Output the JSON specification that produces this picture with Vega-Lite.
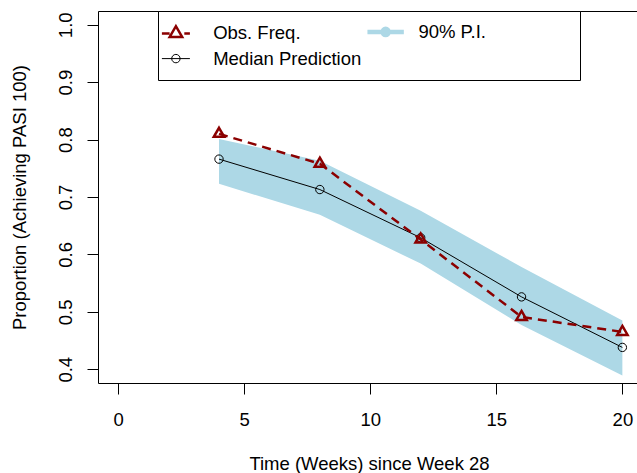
{
  "$schema": "https://vega.github.io/schema/vega-lite/v6.json",
  "width": 540,
  "height": 372,
  "autosize": {"type": "none"},
  "padding": {"left": 98, "top": 11, "right": 0, "bottom": 90},
  "background": "white",
  "datasets": {
    "band": [
      {"week": 4, "lo": 0.723, "hi": 0.801},
      {"week": 8, "lo": 0.669, "hi": 0.763},
      {"week": 12, "lo": 0.584, "hi": 0.676},
      {"week": 16, "lo": 0.477, "hi": 0.578},
      {"week": 20, "lo": 0.389, "hi": 0.485}
    ],
    "obs": [
      {"week": 4, "value": 0.81, "series": "Obs. Freq."},
      {"week": 8, "value": 0.758, "series": "Obs. Freq."},
      {"week": 12, "value": 0.626, "series": "Obs. Freq."},
      {"week": 16, "value": 0.491, "series": "Obs. Freq."},
      {"week": 20, "value": 0.465, "series": "Obs. Freq."}
    ],
    "med": [
      {"week": 4, "value": 0.766, "series": "Median Prediction"},
      {"week": 8, "value": 0.713, "series": "Median Prediction"},
      {"week": 12, "value": 0.629, "series": "Median Prediction"},
      {"week": 16, "value": 0.526, "series": "Median Prediction"},
      {"week": 20, "value": 0.438, "series": "Median Prediction"}
    ]
  },
  "config": {
    "view": {"stroke": "black", "strokeWidth": 1},
    "font": "Liberation Sans",
    "axis": {
      "domain": false, "grid": false, "ticks": true, "tickSize": 11,
      "tickColor": "black", "tickWidth": 1,
      "labelFont": "Liberation Sans", "labelFontSize": 18.5, "labelColor": "black",
      "titleFont": "Liberation Sans", "titleFontSize": 18.5, "titleFontWeight": "normal", "titleColor": "black"
    }
  },
  "encoding": {
    "x": {
      "field": "week", "type": "quantitative",
      "scale": {"domain": [-0.8, 20.62], "nice": false, "zero": false},
      "axis": {
        "values": [0, 5, 10, 15, 20], "labelBaseline": "alphabetic", "labelPadding": 31.7,
        "title": "Time (Weeks) since Week 28", "titleBaseline": "alphabetic",
        "titleX": 271, "titleY": 86, "titleAlign": "center"
      }
    }
  },
  "layer": [
    {
      "data": {"name": "band"},
      "mark": {"type": "area", "color": "#ADD8E6", "opacity": 1},
      "encoding": {
        "y": {
          "field": "lo", "type": "quantitative",
          "scale": {"domain": [0.376, 1.024], "nice": false, "zero": false},
          "axis": {
            "values": [0.4, 0.5, 0.6, 0.7, 0.8, 0.9, 1.0], "format": ".1f",
            "labelAngle": -90, "labelAlign": "center", "labelBaseline": "alphabetic", "labelPadding": 16,
            "title": "Proportion (Achieving PASI 100)", "titleAngle": -90, "titleBaseline": "alphabetic",
            "titleX": -73, "titleY": 186, "titleAlign": "center"
          }
        },
        "y2": {"field": "hi"}
      }
    },
    {
      "data": {"name": "med"},
      "mark": {"type": "line", "strokeWidth": 1},
      "encoding": {
        "y": {"field": "value", "type": "quantitative"},
        "color": {
          "field": "series", "type": "nominal",
          "scale": {"domain": ["Obs. Freq.", "90% P.I.", "Median Prediction"], "range": ["#8B0000", "#ADD8E6", "black"]},
          "legend": {
            "orient": "none", "legendX": 60, "legendY": 0,
            "title": " ", "titleFontSize": 1, "titlePadding": 1.7,
            "columns": 2, "gridAlign": "all", "direction": "horizontal",
            "strokeColor": "black", "fillColor": "white", "padding": 8.65,
            "labelFont": "Liberation Sans", "labelFontSize": 18.5, "labelColor": "black",
            "labelOffset": 28, "columnPadding": -7.75, "rowPadding": 0,
            "symbolSize": 784, "symbolDash": [], "symbolType": "stroke",
            "encode": {
              "symbols": {
                "update": {
                  "shape": {"signal": "datum.value === 'Obs. Freq.' ? 'M-1,0H-0.45M-0.45,0.26L0,-0.52L0.45,0.26ZM0.6,0H1M0,0.65' : datum.value === '90% P.I.' ? 'M-0.98,0H1.62M0.54,0A0.22,0.22 0 1,1 0.1,0A0.22,0.22 0 1,1 0.54,0M0,0.58M12.9,0' : 'M-1,0H1M0.3,0A0.3,0.3 0 1,1 -0.3,0A0.3,0.3 0 1,1 0.3,0M0,0.71'"},
                  "stroke": {"signal": "datum.value === 'Obs. Freq.' ? '#8B0000' : datum.value === '90% P.I.' ? '#ADD8E6' : 'black'"},
                  "fill": {"signal": "datum.value === '90% P.I.' ? '#ADD8E6' : 'transparent'"},
                  "strokeWidth": {"signal": "datum.value === 'Obs. Freq.' ? 2.5 : datum.value === '90% P.I.' ? 4.5 : 1"},
                  "strokeDash": {"value": []},
                  "opacity": {"value": 1}
                }
              }
            }
          }
        }
      }
    },
    {
      "data": {"name": "med"},
      "mark": {"type": "point", "shape": "circle", "filled": false, "size": 70, "stroke": "black", "strokeWidth": 1, "opacity": 1},
      "encoding": {"y": {"field": "value", "type": "quantitative"}}
    },
    {
      "data": {"name": "obs"},
      "mark": {"type": "line", "strokeWidth": 2.5, "strokeDash": [9, 6], "strokeCap": "butt"},
      "encoding": {
        "y": {"field": "value", "type": "quantitative"},
        "color": {"field": "series", "type": "nominal"}
      }
    },
    {
      "data": {"name": "obs"},
      "mark": {"type": "point", "shape": "M0,-1L0.866,0.5L-0.866,0.5Z", "filled": false, "size": 144, "stroke": "#8B0000", "strokeWidth": 2.5, "opacity": 1},
      "encoding": {"y": {"field": "value", "type": "quantitative"}}
    }
  ]
}
